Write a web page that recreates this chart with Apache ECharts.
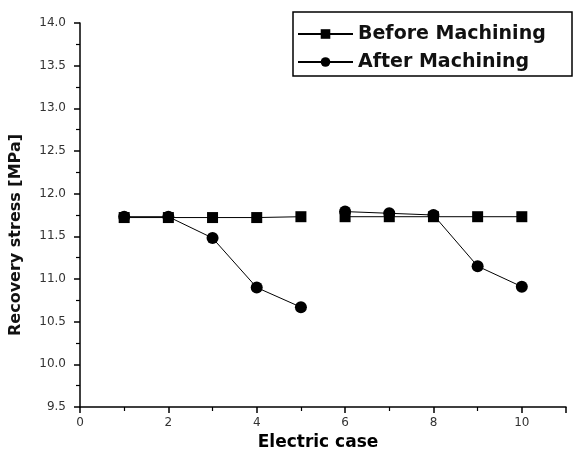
<!DOCTYPE html>
<html>
<head>
<meta charset="utf-8">
<script src="https://cdn.jsdelivr.net/npm/echarts@6/dist/echarts.min.js"></script>
<style>html,body{margin:0;padding:0;background:#fff;}#c{width:574px;height:464px;}</style>
</head>
<body>
<div id="c"></div>
<script>
var casesA = [1, 2, 3, 4, 5];
var casesB = [6, 7, 8, 9, 10];
var beforeA = [11.72, 11.72, 11.72, 11.72, 11.73];
var beforeB = [11.73, 11.73, 11.73, 11.73, 11.73];
var afterA = [11.73, 11.73, 11.48, 10.90, 10.67];
var afterB = [11.79, 11.77, 11.75, 11.15, 10.91];
var seriesNames = ['Before Machining', 'After Machining'];

function pairs(xs, ys) { return xs.map(function (x, i) { return [x, ys[i]]; }); }

var chart = echarts.init(document.getElementById('c'));
var lineStyle = { color: '#000', width: 1 };
function mk(name, xs, ys, symbol, size) {
  return {
    name: name, type: 'line', data: pairs(xs, ys),
    symbol: symbol, symbolSize: size,
    itemStyle: { color: '#000' }, lineStyle: lineStyle,
    animation: false
  };
}
chart.setOption({
  animation: false,
  grid: { left: 78, right: 8, top: 23, bottom: 57 },
  graphic: [{
    type: 'rect', shape: { x: 293, y: 12, width: 279, height: 64 },
    style: { fill: 'none', stroke: '#000', lineWidth: 1.5 }, z: 10
  }],
  legend: {
    orient: 'vertical', left: 293, top: 17,
    padding: [6, 4, 6, 4], itemGap: 6,
    itemWidth: 55, itemHeight: 12,
    data: seriesNames,
    textStyle: { fontFamily: 'DejaVu Sans', fontWeight: 'bold', fontSize: 19, color: '#111', lineHeight: 22 }
  },
  xAxis: {
    type: 'value', min: 0, max: 11, interval: 2,
    name: 'Electric case', nameLocation: 'middle', nameGap: 18,
    nameTextStyle: { fontFamily: 'DejaVu Sans', fontWeight: 'bold', fontSize: 17, color: '#000', padding: [0, 10, 0, 0] },
    axisLine: { lineStyle: { color: '#000', width: 1.5 } },
    axisTick: { inside: false, length: 6, lineStyle: { color: '#000', width: 1.5 } },
    minorTick: { show: true, splitNumber: 2, length: 4, lineStyle: { color: '#000', width: 1.2 } },
    axisLabel: { showMaxLabel: false, margin: 10, fontFamily: 'DejaVu Sans', fontSize: 12, color: '#333' },
    splitLine: { show: false }
  },
  yAxis: {
    type: 'value', min: 9.5, max: 14, interval: 0.5,
    name: 'Recovery stress [MPa]', nameLocation: 'middle', nameGap: 56, nameRotate: 90,
    nameTextStyle: { fontFamily: 'DejaVu Sans', fontWeight: 'bold', fontSize: 16, color: '#111', padding: [0, 40, 0, 0] },
    axisLine: { show: true, lineStyle: { color: '#000', width: 1.5 } },
    axisTick: { show: true, inside: false, length: 6, lineStyle: { color: '#000', width: 1.5 } },
    minorTick: { show: true, splitNumber: 2, length: 4, lineStyle: { color: '#000', width: 1.2 } },
    axisLabel: { margin: 14, fontFamily: 'DejaVu Sans', fontSize: 12, color: '#333',
      formatter: function (v) { return v.toFixed(1); } },
    splitLine: { show: false }
  },
  series: [
    mk(seriesNames[0], casesA, beforeA, 'rect', 11),
    mk(seriesNames[0], casesB, beforeB, 'rect', 11),
    mk(seriesNames[1], casesA, afterA, 'circle', 12),
    mk(seriesNames[1], casesB, afterB, 'circle', 12)
  ]
});
</script>
</body>
</html>
